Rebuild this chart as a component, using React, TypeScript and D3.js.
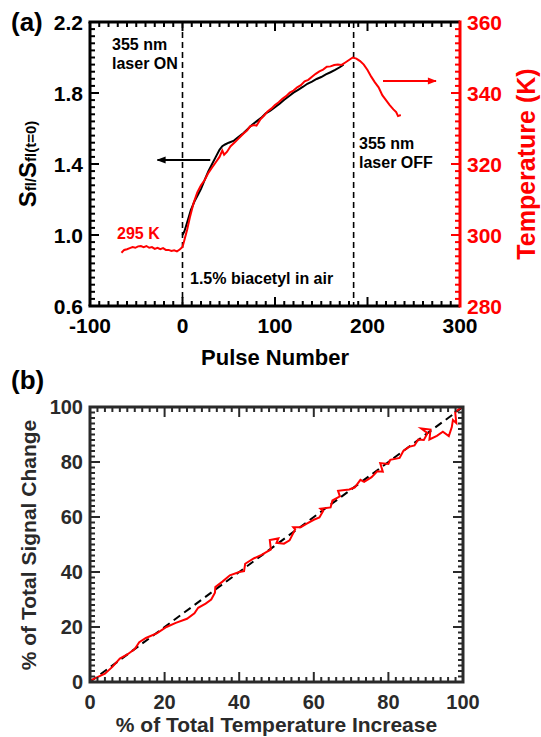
import React from "react";
import * as d3 from "d3";

// ---------- Panel (a) data ----------
const tempPulse = [-66,-63,-60,-57,-54,-51,-48,-45,-42,-39,-36,-33,-30,-27,-24,-21,-18,-15,-12,-9,-6,-3,0,
  2,5,8,12,16,20,24,28,32,36,40,43,45,48,52,56,60,63,66,70,73,77,80,84,88,92,96,100,104,108,112,116,120,124,128,132,136,140,144,148,152,156,160,164,168,172,176,180,184,188,192,196,200,204,208,212,216,220,224,228,231,233,236];
const tempK = [295.0,295.8,296.0,296.3,296.6,296.4,296.8,296.9,296.6,296.9,296.4,296.6,296.1,296.4,296.0,296.3,295.8,295.8,295.5,295.7,295.4,295.9,296.6,
  298.5,301.5,305,309,312,314,315.5,317.5,319,320.5,322,323.8,322.6,323.4,325,326,327,327.8,328.6,329.5,330.6,331,330.8,332.5,333.6,334.8,335.6,336.6,337.4,338.4,339.1,340.1,340.7,341.6,342.2,343.3,343.7,344.6,345.4,346.1,346.6,347.4,347.5,347.9,348.0,347.9,348.6,349.3,350,349.7,349,348,346.5,344.6,343,341.6,339.4,338,336.6,335.4,334.6,333.5,333.8];

const sigPulse = [0,2,5,9,13,17,20,24,28,32,36,40,43,46,50,55,60,66,70,75,80,85,90,95,100,105,110,115,120,125,130,135,140,145,150,155,160,165,170,174];
const sigRatio = [1.0,1.02,1.07,1.14,1.19,1.23,1.26,1.31,1.36,1.40,1.44,1.48,1.50,1.51,1.52,1.53,1.55,1.575,1.595,1.62,1.64,1.66,1.685,1.70,1.72,1.74,1.762,1.782,1.802,1.818,1.834,1.852,1.864,1.879,1.89,1.905,1.917,1.93,1.945,1.96];

const laserOn = 0;
const laserOff = 185;

const xTicksA = [-100, 0, 100, 200, 300];
const yTicksA = [0.6, 1.0, 1.4, 1.8, 2.2];
const tTicksA = [280, 300, 320, 340, 360];

// ---------- Panel (b) data ----------
const tempPct = [0,2,4,6,8,10,12,13.2,15,18,20.5,23,26,28,29,31,32.5,33.5,33.6,35.5,37.5,40,41.3,41.6,44,46,48.5,48.2,50.5,50,52,53.5,55,54.5,56.5,58,60,61.5,62.5,61.8,64.5,65,67,66.5,69.5,71,72.5,73.5,75.5,77,78.5,77.8,80,80.5,83,84,85.5,87,88,89.5,90.5,88.8,91.3,91,93,94.6,96.2,97,97.3,98.2,97.9,99,100];
const sigPct = [0.5,1.8,3,5.5,8.5,10,12,14.5,16,17.8,20,21.5,23,25,27,28.5,30,32.5,34.5,36.5,38.8,40,40.3,43,45,46.2,48.2,51.6,52.2,50.6,50.3,51.5,55.5,56.3,56.3,57.5,59,59.8,62.2,63,63.5,66,67.5,69.5,70,70.8,73.5,72.8,74.5,76.6,76.5,79.6,79.3,80.8,81.5,84,85.5,86,88.2,88,90.5,92.2,91.8,88.2,89.5,91,89.4,92.7,95.3,94.2,98.2,99.3,100];

const xTicksB = [0, 20, 40, 60, 80, 100];
const yTicksB = [0, 20, 40, 60, 80, 100];

const FONT = "'Liberation Sans', Arial, Helvetica, sans-serif";

export default function App() {
  const xA = d3.scaleLinear().domain([-100, 300]).range([90, 460]);
  const yA = d3.scaleLinear().domain([0.6, 2.2]).range([306, 22]);
  const tA = d3.scaleLinear().domain([280, 360]).range([306, 22]);
  const xB = d3.scaleLinear().domain([0, 100]).range([90, 463]);
  const yB = d3.scaleLinear().domain([0, 100]).range([682, 407]);

  const tempLine = d3.line<number>().x((_, i) => xA(tempPulse[i])).y((d) => tA(d));
  const sigLine = d3.line<number>().x((_, i) => xA(sigPulse[i])).y((d) => yA(d));
  const bLine = d3.line<number>().x((_, i) => xB(tempPct[i])).y((d) => yB(d));

  const axisA = "#000";
  const red = "#ff0000";
  const axisB = "#2a2a2a";

  const minorXA = d3.range(-100, 300.01, 10);
  const minorYA = d3.range(0.6, 2.2001, 0.04);
  const minorTA = d3.range(280, 360.01, 2);
  const minorB = d3.range(0, 100.01, 2);

  const isMajor = (v: number, step: number, base: number) =>
    Math.abs(((v - base) / step) - Math.round((v - base) / step)) < 1e-6;

  const [ax0, ax1] = xA.range();
  const [ayb, ayt] = yA.range();
  const [bx0, bx1] = xB.range();
  const [byb, byt] = yB.range();

  return (
    <svg width={541} height={737} style={{ position: "absolute", left: 0, top: 0, background: "#fff" }} fontFamily={FONT}>
      <defs>
        <marker id="arrBlack" viewBox="0 0 10 10" refX="9" refY="5" markerWidth="5" markerHeight="5" orient="auto">
          <path d="M0,1 L10,5 L0,9 Z" fill="#000" />
        </marker>
        <marker id="arrRed" viewBox="0 0 10 10" refX="9" refY="5" markerWidth="5.5" markerHeight="5" orient="auto">
          <path d="M0,1 L10,5 L0,9 Z" fill={red} />
        </marker>
      </defs>

      {/* ===== Panel (a) ===== */}
      <text x={11} y={31} fontSize={26} fontWeight="bold">(a)</text>

      {[laserOn, laserOff].map((p) => (
        <line key={p} x1={xA(p)} x2={xA(p)} y1={ayt} y2={ayb} stroke="#000" strokeWidth={1.6} strokeDasharray="6,4" />
      ))}

      <path d={sigLine(sigRatio) || ""} fill="none" stroke="#000" strokeWidth={2} />
      <path d={tempLine(tempK) || ""} fill="none" stroke={red} strokeWidth={2} />

      {minorXA.map((v) => {
        const L = isMajor(v, 100, -100) ? 9 : 5;
        return (
          <g key={"xa" + v}>
            <line x1={xA(v)} x2={xA(v)} y1={ayt} y2={ayt + L} stroke={axisA} strokeWidth={2} />
            <line x1={xA(v)} x2={xA(v)} y1={ayb} y2={ayb - L} stroke={axisA} strokeWidth={2} />
          </g>
        );
      })}
      {minorYA.map((v) => {
        const L = isMajor(v, 0.4, 0.6) ? 9 : 5;
        return <line key={"ya" + v} x1={ax0} x2={ax0 + L} y1={yA(v)} y2={yA(v)} stroke={axisA} strokeWidth={2} />;
      })}
      {minorTA.map((v) => {
        const L = isMajor(v, 20, 280) ? 9 : 5;
        return <line key={"ta" + v} x1={ax1} x2={ax1 - L} y1={tA(v)} y2={tA(v)} stroke={red} strokeWidth={2} />;
      })}
      <line x1={ax0 - 1.5} x2={ax1} y1={ayt} y2={ayt} stroke={axisA} strokeWidth={3} />
      <line x1={ax0 - 1.5} x2={ax1} y1={ayb} y2={ayb} stroke={axisA} strokeWidth={3} />
      <line x1={ax0} x2={ax0} y1={ayt} y2={ayb} stroke={axisA} strokeWidth={3} />
      <line x1={ax1} x2={ax1} y1={ayt - 1.5} y2={ayb + 1.5} stroke={red} strokeWidth={3} />

      {yTicksA.map((v) => (
        <text key={"yl" + v} x={83} y={yA(v)} dy="0.36em" textAnchor="end" fontSize={21} fontWeight="bold">{v.toFixed(1)}</text>
      ))}
      {tTicksA.map((v) => (
        <text key={"tl" + v} x={467} y={tA(v)} dy="0.36em" textAnchor="start" fontSize={21} fontWeight="bold" fill={red}>{v}</text>
      ))}
      {xTicksA.map((v) => (
        <text key={"xl" + v} x={xA(v)} y={333} textAnchor="middle" fontSize={21} fontWeight="bold">{v}</text>
      ))}
      <text x={xA(100)} y={365} textAnchor="middle" fontSize={22} fontWeight="bold">Pulse Number</text>

      <text transform="translate(36,164) rotate(-90)" textAnchor="middle" fontWeight="bold">
        <tspan fontSize={24}>S</tspan><tspan fontSize={15}>fl/</tspan><tspan fontSize={24}>S</tspan><tspan fontSize={15}>fl(t=0)</tspan>
      </text>
      <text transform="translate(535,164) rotate(-90)" textAnchor="middle" fontWeight="bold" fontSize={25} fill={red}>Temperature (K)</text>

      <text x={112} y={50} fontSize={16} fontWeight="bold">355 nm</text>
      <text x={112} y={69} fontSize={16} fontWeight="bold">laser ON</text>
      <text x={359} y={149} fontSize={16} fontWeight="bold">355 nm</text>
      <text x={359} y={168} fontSize={16} fontWeight="bold">laser OFF</text>
      <text x={190} y={284} fontSize={16} fontWeight="bold">1.5% biacetyl in air</text>
      <text x={117} y={239} fontSize={16} fontWeight="bold" fill={red}>295 K</text>

      <line x1={xA(30)} x2={xA(-27)} y1={160} y2={160} stroke="#000" strokeWidth={1.8} markerEnd="url(#arrBlack)" />
      <line x1={383} x2={436} y1={81} y2={81} stroke={red} strokeWidth={1.8} markerEnd="url(#arrRed)" />

      {/* ===== Panel (b) ===== */}
      <text x={11} y={389} fontSize={26} fontWeight="bold">(b)</text>

      <line x1={xB(0)} y1={yB(0)} x2={xB(100)} y2={yB(100)} stroke="#000" strokeWidth={2} strokeDasharray="8,5" />
      <path d={bLine(sigPct) || ""} fill="none" stroke={red} strokeWidth={2} />

      {minorB.map((v) => {
        const L = isMajor(v, 20, 0) ? 10 : 5;
        return (
          <g key={"b" + v}>
            <line x1={xB(v)} x2={xB(v)} y1={byt} y2={byt + L} stroke={axisB} strokeWidth={2} />
            <line x1={xB(v)} x2={xB(v)} y1={byb} y2={byb - L} stroke={axisB} strokeWidth={2} />
            <line x1={bx0} x2={bx0 + L} y1={yB(v)} y2={yB(v)} stroke={axisB} strokeWidth={2} />
            <line x1={bx1} x2={bx1 - L} y1={yB(v)} y2={yB(v)} stroke={axisB} strokeWidth={2} />
          </g>
        );
      })}
      <rect x={bx0} y={byt} width={bx1 - bx0} height={byb - byt} fill="none" stroke={axisB} strokeWidth={3} />

      {yTicksB.map((v) => (
        <text key={"ybl" + v} x={83} y={yB(v)} dy="0.36em" textAnchor="end" fontSize={20} fontWeight="bold" fill={axisB}>{v}</text>
      ))}
      {xTicksB.map((v) => (
        <text key={"xbl" + v} x={xB(v)} y={709} textAnchor="middle" fontSize={20} fontWeight="bold" fill={axisB}>{v}</text>
      ))}
      <text x={xB(50)} y={732} textAnchor="middle" fontSize={21} fontWeight="bold" fill={axisB}>% of Total Temperature Increase</text>
      <text transform="translate(36,545) rotate(-90)" textAnchor="middle" fontSize={21} fontWeight="bold" fill={axisB}>% of Total Signal Change</text>
    </svg>
  );
}
